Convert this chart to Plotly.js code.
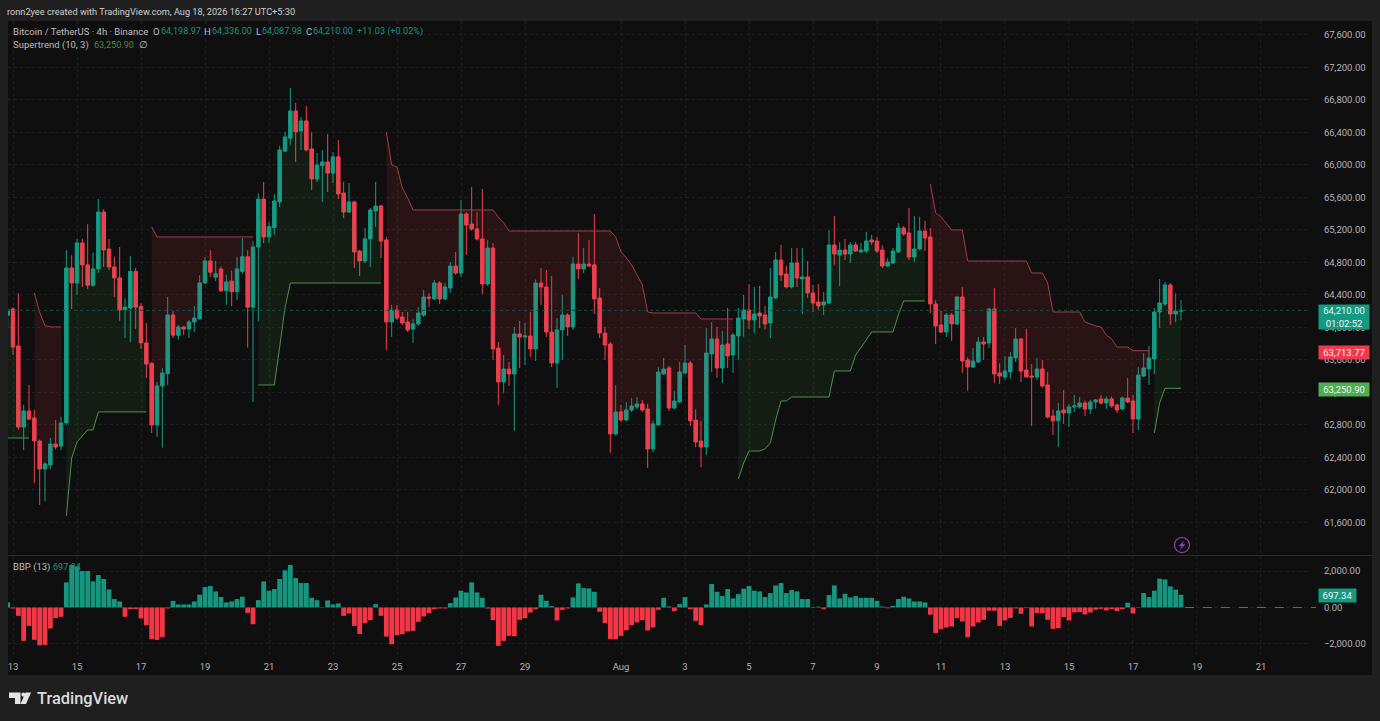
<!DOCTYPE html>
<html><head><meta charset="utf-8">
<script src="https://cdn.plot.ly/plotly-3.0.1.min.js"></script>
<style>html,body{margin:0;padding:0;background:#1f1f1f;overflow:hidden}#chart{width:1380px;height:721px}</style>
</head><body><div id="chart"></div>
<script>
const firstBar = -1;
const opens = [64150,64227,63772,62775,62972,62886,62602,62258,62307,62565,
62540,62824,64732,64547,65040,64770,64520,64720,65421,64965,
64745,64610,64215,64240,64690,64260,63810,63560,62800,63280,
63430,64153,63905,64005,63980,64067,64105,64547,64818,64620,
64720,64450,64570,64440,64690,64870,64250,64990,65580,65114,
65230,65545,66170,66330,66665,66418,66542,66197,65827,65990,
66037,65900,66100,65655,65421,65545,64941,64818,65090,65433,
65495,65077,64067,64215,64129,64067,63980,64043,64153,64375,
64350,64547,64350,64485,64756,64670,65397,65273,65212,65090,
64535,64978,63747,63328,63488,63427,63920,63882,63895,63735,
64547,64498,63944,63563,63969,64153,64006,64781,64720,64781,
64770,64363,63932,63796,62688,62960,62861,62984,63020,63058,
62996,62504,62800,63427,63501,63008,63082,63440,63562,62860,
62602,62528,63673,63858,63501,63796,63660,63895,64104,64215,
64092,64178,64153,64055,64363,64830,64658,64498,64794,64597,
64622,64425,64314,64277,64301,65015,64892,64953,64904,65015,
64929,64941,65077,65064,64953,64757,64794,64929,65224,65163,
64867,64966,65187,65114,64289,64030,63944,64153,64043,64375,
63600,63513,63575,63821,63809,64227,63439,63390,63452,63624,
63858,63476,63402,63390,63488,63292,62910,62850,62984,62947,
63021,63021,63070,62996,63082,63120,63070,63120,63045,62996,
63132,63095,62873,63402,63489,63612,64190,64289,64523,64166,
64198.97];
const highs = [64240,64250,64420,63045,63290,62985,62620,62340,62640,62860,
62900,64950,64890,65090,65090,65273,64920,65580,65458,65090,
64870,64990,64360,64880,64730,64300,64055,63570,63330,63500,
64375,64200,64030,64020,64090,64265,64645,64865,64953,64820,
64750,64650,64700,64870,65100,64950,65060,65650,65790,65300,
65640,66235,66406,66948,66763,66590,66726,66406,66147,66185,
66380,66160,66308,65790,65778,65560,64955,65225,65470,65790,
65510,65114,64277,64277,64190,64190,64100,64250,64461,64420,
64584,64570,64547,64806,64929,65570,65420,65730,65421,65704,
65077,65040,63821,63660,63575,64005,64080,64055,64190,64590,
64732,64707,64634,64116,64400,64175,64870,65163,64978,65077,
65397,64485,64005,63821,63290,63045,63082,63132,63144,63107,
63060,62850,63513,63624,63530,63218,63575,63784,63590,62996,
62850,63993,64067,64005,63956,64240,63930,64240,64400,64535,
64498,64510,64265,64732,64929,65015,64760,64978,64978,64978,
64818,64523,64535,64437,65200,65372,65052,65090,65052,65052,
65040,65175,65138,65114,65010,64855,64978,65285,65250,65470,
65372,65360,65310,65224,64338,64203,64178,64180,64385,64498,
63636,63747,63883,63883,64240,64486,63562,63648,63698,63993,
63870,63981,63550,63624,63600,63452,62990,63070,63230,63058,
63169,63144,63100,63110,63120,63169,63150,63150,63060,63150,
63378,63170,63513,63686,63772,64240,64597,64560,64547,64420,
64336];
const lows = [64000,63660,62740,62490,62860,62085,61815,61860,62258,62500,
62490,62800,64227,64400,64500,64474,64500,64670,64745,64707,
64375,64080,63870,63820,63980,63735,63380,62700,62650,62520,
63290,63870,63850,63905,63870,63945,64100,64540,64620,64570,
64440,64280,64265,64340,64660,63750,63080,64080,65040,65040,
65140,65480,66165,66246,66037,66185,66170,65692,65790,65545,
65667,65778,65580,65347,65410,64732,64634,64790,64745,65236,
64855,63722,63883,64090,64030,63945,63810,64020,64129,64250,
64335,64290,64335,64425,64650,64620,64892,65190,65070,64412,
64510,63600,63045,63190,63280,62725,63500,63538,63636,63587,
64277,63883,63513,63255,63600,63895,63969,64597,64670,64745,
64166,63870,63600,62455,62670,62836,62845,62960,62990,62960,
62270,62465,62790,63415,62972,62990,63070,63420,62787,62528,
62282,62430,63450,63378,63316,63501,63440,63600,63883,63981,
63932,63993,63975,63870,64350,64572,64480,64480,64498,64166,
64363,64190,64215,64153,64290,64770,64510,64830,64794,64929,
64915,64915,65015,64915,64732,64745,64780,64915,65130,64830,
64806,64950,64941,64178,63796,63930,63883,63834,64030,63440,
63218,63500,63560,63600,63747,63316,63304,63353,63365,63575,
63328,63385,62787,63350,63260,62880,62677,62528,62812,62775,
62960,63000,62910,62935,63000,63050,62996,63010,62947,62980,
63070,62700,62737,63390,63292,63427,63993,64265,64030,64067,
64087.98];
const closes = [64215,63759,62775,62972,62873,62602,62258,62320,62565,62528,
62824,64732,64547,65040,64770,64520,64720,65421,64953,64745,
64610,64215,64250,64690,64250,63810,63550,62800,63280,63440,
64153,63905,64005,63980,64067,64116,64547,64818,64680,64660,
64450,64560,64440,64720,64870,64250,64990,65580,65114,65240,
65557,66185,66345,66665,66406,66542,66185,65827,66000,66037,
65900,66100,65643,65421,65545,64929,64818,65090,65445,65495,
65064,64067,64215,64116,64055,63969,64043,64178,64375,64360,
64547,64350,64498,64756,64670,65397,65261,65212,65090,64535,
64978,63735,63328,63488,63427,63920,63882,63895,63735,64547,
64498,63944,63563,63969,64153,64006,64781,64720,64781,64756,
64350,63932,63784,62688,62960,62861,62984,63033,63058,62984,
62504,62812,63452,63488,63008,63095,63452,63562,62850,62590,
62528,63685,63858,63501,63784,63648,63907,64116,64215,64092,
64166,64141,64043,64375,64830,64646,64498,64794,64609,64622,
64425,64301,64265,64314,65015,64904,64953,64904,65015,64941,
64953,65064,65052,64941,64757,64806,64941,65224,65150,64867,
64966,65187,65101,64289,64018,63944,64153,64043,64375,63587,
63513,63587,63821,63796,64227,63427,63402,63464,63636,63858,
63464,63390,63390,63488,63280,62898,62850,62972,62947,63021,
63033,63070,62996,63082,63107,63070,63120,63033,62984,63132,
63082,62873,63415,63501,63624,64190,64301,64523,64166,64198.97,
64210];
const bbp = [275,-60,-460,-1835,-1010,-1780,-2075,-2055,-1155,-590,
-515,1375,2330,2257,2000,2000,1430,1780,1560,990,
460,330,-515,-90,-90,-605,-970,-1740,-1780,-1630,
-55,365,165,165,165,330,700,1120,1175,880,
570,275,330,460,590,-310,-920,400,1430,920,
1010,1560,2040,2330,1615,1340,1340,530,400,20,
385,165,220,-460,-330,-1010,-1450,-860,-700,185,
-460,-1600,-2020,-1520,-1470,-1320,-1285,-790,-495,-310,
-90,-55,-55,240,550,920,825,1375,825,530,
-55,-700,-2110,-1835,-1560,-1580,-680,-590,-275,-90,
700,365,75,-715,-130,-55,550,1320,1065,1045,
860,-240,-860,-1740,-1740,-1560,-1250,-970,-825,-700,
-1265,-1100,-130,530,55,-200,185,570,-90,-735,
-970,165,1285,860,625,1010,495,735,1030,1175,
920,880,570,790,1210,1340,790,955,880,460,
460,30,45,-90,680,1210,495,750,550,625,
530,530,530,365,50,-40,90,460,590,495,
330,330,275,-400,-1410,-1190,-1100,-1045,-590,-770,
-1635,-1045,-825,-680,-180,-180,-1010,-715,-570,-55,
-350,-40,-1045,-310,-310,-680,-1175,-1140,-530,-715,
-275,-255,-385,-275,-130,-75,-165,-90,-200,-90,
255,-330,20,790,570,920,1580,1540,1155,975,
697.34];

// Supertrend runs: [first bar, values]
const stDown0 = [4, [64424,64190,64020,64006,64006,64006]];
const stDown1 = [26, [65237,65114,65114,65114,65114,65114,65114,65114,65114,65114,65114,65114,65114,65114,65114,65114,65114,65114,65114,65114]];
const stDown2 = [70, [66406,65999,65975,65717,65594,
 65446,65446,65446,65446,65446,65446,65446,65446,65446,65446,65446,65446,65446,65446,65446,65446,
 65360,65286,
 65187,65187,65187,65187,65187,65187,65187,65187,65187,65187,65187,65187,65187,65187,65187,65187,65187,65187,65187,65187,
 65114,64929,64855,64769,64646,64523,64190,
 64178,64178,64178,64178,64178,64178,64178,64178,64178,
 64104,64104,64104,64104,64104,64104,64104]];
const stDown3 = [172, [65766,65409,65360,65274,65200,65200,65200,
 64818,64818,64818,64818,64818,64818,64818,64818,64818,64818,64818,64818,
 64670,64670,64670,64547,
 64190,64190,64190,64190,64190,64190,
 64067,64043,64018,64006,63907,63858,63759,63759,63759,
 63713.77,63713.77,63713.77,63713.77]];
const stUp0 = [-1, [62639,62639,62639,62639,62639]];
const stUp1 = [10, [61679,62393,62590,62664,62738,62738,62960,62960,62960,62960,62960,62960,62960,62960,62960,62960]];
const stUp2 = [46, [63292,63292,63292,63292,63759,64239,
 64547,64547,64547,64547,64547,64547,64547,64547,64547,64547,64547,64547,64547,64547,64547,64547,64547,64547]];
const stUp3 = [136, [62135,62331,62479,62479,62479,62504,62578,62861,63095,63095,
 63144,63144,63144,63144,63144,63144,63144,63144,
 63464,63464,63464,63464,63661,63747,63846,
 63944,63944,63944,63944,63944,64153,64326,64326,64326,64326,64326]];
const stUp4 = [214, [62701,63070,63250.9,63250.9,63250.9,63250.9]];

const dayTickBars = [0,12,24,36,48,60,72,84,96,114,126,138,150,162,174,186,198,210,222,234];
const dayTickLabels = ['13','15','17','19','21','23','25','27','29','Aug','3','5','7','9','11','13','15','17','19','21'];
const priceTicks = [61600,62000,62400,62800,63200,63600,64000,64400,64800,65200,65600,66000,66400,66800,67200,67600];
const bbpTicks = [-2000,0,2000];

const UP='#159a84', DOWN='#ee3f4f', GRID='#1e1e1e', TXT='#b4b4b4', FONT='Roboto, "Liberation Sans", sans-serif';
const PX=x=>(x-8)/1302, PY=y=>(675-y)/654;
const bars = opens.map((_,i)=>firstBar+i);
const mid = opens.map((o,i)=>(o+closes[i])/2);

const traces=[];
function stTrace([start,vals],line,fill){
  const xs=vals.map((_,k)=>start+k);
  const ms=vals.map((_,k)=>mid[start+k-firstBar]);
  traces.push({type:'scatter',mode:'lines',x:xs,y:ms,line:{width:0,color:'rgba(0,0,0,0)'},hoverinfo:'skip',showlegend:false});
  traces.push({type:'scatter',mode:'lines',x:xs,y:vals,line:{width:1,color:line},fill:'tonexty',fillcolor:fill,hoverinfo:'skip',showlegend:false});
}
[stDown0,stDown1,stDown2,stDown3].forEach(s=>stTrace(s,'#a53a47','rgba(242,54,69,0.11)'));
[stUp0,stUp1,stUp2,stUp3,stUp4].forEach(s=>stTrace(s,'#4f8f53','rgba(76,175,80,0.09)'));

traces.push({type:'candlestick',x:bars,open:opens,high:highs,low:lows,close:closes,
  increasing:{line:{color:UP,width:1},fillcolor:UP},decreasing:{line:{color:DOWN,width:1},fillcolor:DOWN},
  whiskerwidth:0,hoverinfo:'skip',showlegend:false});
traces.push({type:'bar',x:bars,y:bbp,yaxis:'y2',marker:{color:bbp.map(v=>v>=0?'#16967f':'#f23645'),line:{width:0}},hoverinfo:'skip',showlegend:false});

const teal='#1d8f7c', GREY='#bdbdbd';
const hdr=(x,y,t,sz,col,extra)=>Object.assign({xref:'paper',yref:'paper',x:PX(x),y:PY(y),xanchor:'left',yanchor:'middle',text:t,showarrow:false,borderpad:0,xshift:-1,font:{family:FONT,size:sz||9.5,color:col||GREY}},extra||{});
const priceLabel=(yref,val,text,bg,cx,w,h,shift)=>({xref:'paper',yref,x:PX(cx),y:val,xanchor:'center',yanchor:'middle',yshift:shift,text,showarrow:false,bgcolor:bg,width:w,height:h,borderpad:0,font:{family:FONT,size:9.5,color:'#f2f2f2'}});

function pathPx(pts){return pts.map((p,i)=>(i?'L':'M')+PX(p[0])+' '+PY(p[1])).join(' ')+' Z';}
const layout={
  width:1380,height:721,margin:{l:8,r:70,t:21,b:46,pad:0},
  paper_bgcolor:'#1f1f1f',plot_bgcolor:'rgba(0,0,0,0)',showlegend:false,hovermode:false,
  dragmode:false,bargap:0.1,boxgap:0.34,boxgroupgap:0,
  font:{family:FONT,size:9.5,color:TXT},
  xaxis:{range:[-0.94,243.19],tickmode:'array',tickvals:dayTickBars,ticktext:dayTickLabels,anchor:'y2',
    showgrid:true,gridcolor:GRID,griddash:'dot',gridwidth:1,zeroline:false,showline:false,ticks:'outside',ticklen:3,tickcolor:'rgba(0,0,0,0)',
    rangeslider:{visible:false},tickfont:{family:FONT,size:9.5,color:TXT},automargin:false},
  yaxis:{domain:[PY(555),1],range:[61199,67772],side:'right',tickmode:'array',tickvals:priceTicks,
    ticktext:priceTicks.map(v=>v.toLocaleString('en-US',{minimumFractionDigits:2})),
    showgrid:true,gridcolor:GRID,griddash:'dot',zeroline:false,showline:false,ticks:'outside',ticklen:11,tickcolor:'rgba(0,0,0,0)',
    tickfont:{family:FONT,size:9.5,color:TXT},automargin:false},
  yaxis2:{domain:[PY(655),PY(556)],range:[-2610,2825],side:'right',tickmode:'array',tickvals:bbpTicks,
    ticktext:['\u22122,000.00','0.00','2,000.00'],
    showgrid:true,gridcolor:GRID,griddash:'dot',zeroline:false,showline:false,ticks:'outside',ticklen:11,tickcolor:'rgba(0,0,0,0)',
    tickfont:{family:FONT,size:9.5,color:TXT},automargin:false},
  shapes:[
    {type:'rect',layer:'below',xref:'paper',yref:'paper',x0:PX(8),x1:PX(1372),y0:PY(675),y1:PY(21),fillcolor:'#0f0f0f',line:{width:0}},
    {type:'line',xref:'paper',yref:'paper',x0:PX(8),x1:PX(1372),y0:PY(555.5),y1:PY(555.5),line:{color:'#2b2b2b',width:1}},
    {type:'line',xref:'paper',yref:'y',x0:0,x1:1,y0:64210,y1:64210,line:{color:'#104d44',width:1,dash:'dot'}},
    {type:'line',xref:'paper',yref:'y2',x0:PX(1185),x1:PX(1316),y0:0,y1:0,line:{color:'#6a6a6a',width:1,dash:'dash'}},
    {type:'circle',xref:'paper',yref:'paper',x0:PX(1174.5),x1:PX(1189.5),y0:PY(552.5),y1:PY(537.5),line:{color:'#9440b0',width:1.2},fillcolor:'rgba(0,0,0,0)'},
    {type:'path',xref:'paper',yref:'paper',path:pathPx([[1184.5,540.5],[1178.5,546],[1181.6,546],[1179.8,550],[1185.5,544.2],[1182.3,544.2]]),fillcolor:'#9440b0',line:{width:0}},
    // TradingView logo
    {type:'path',xref:'paper',yref:'paper',path:pathPx([[9,692.5],[20.5,692.5],[20.5,704],[15,704],[15,698],[9,698]]),fillcolor:'#e4e4e4',line:{width:0}},
    {type:'circle',xref:'paper',yref:'paper',x0:PX(21.3),x1:PX(25.3),y0:PY(696.7),y1:PY(692.5),fillcolor:'#e4e4e4',line:{width:0}},
    {type:'path',xref:'paper',yref:'paper',path:pathPx([[25.5,692.5],[31,692.5],[26,704],[20.5,704]]),fillcolor:'#e4e4e4',line:{width:0}}
  ],
  annotations:[
    hdr(7,11,'ronn2yee created with TradingView.com, Aug 18, 2026 16:27 UTC+5:30',9.2,'#cfcfcf'),
    hdr(13,31.5,'Bitcoin / TetherUS \u00b7 4h \u00b7 Binance'),
    hdr(153,31.5,'O'), hdr(160.5,31.5,'64,198.97',9.1,teal),
    hdr(204,31.5,'H'), hdr(211.5,31.5,'64,336.00',9.1,teal),
    hdr(256,31.5,'L'), hdr(262,31.5,'64,087.98',9.1,teal),
    hdr(306,31.5,'C'), hdr(313,31.5,'64,210.00',9.1,teal),
    hdr(357,31.5,'+11.03 (+0.02%)',9.1,teal),
    hdr(13,44.5,'Supertrend (10, 3)'),
    hdr(94,44.5,'63,250.90',9.1,'#3f8f44'),
    hdr(139,44.5,'\u2205'),
    hdr(13,566.5,'BBP (13)'),
    hdr(53,566.5,'697.34',9.1,teal),
    hdr(37,698.5,'TradingView',16.4,'#dcdcdc',{font:{family:FONT,size:16.4,color:'#dcdcdc',weight:500}}),
    priceLabel('y',64210,'64,210.00<br>01:02:52','#139a83',1344,50,24,-6.6),
    priceLabel('y',63713.77,'63,713.77','#ee3a4c',1344,50,13,-1.5),
    priceLabel('y',63250.9,'63,250.90','#4caf50',1344,50,13,-1),
    priceLabel('y2',697.34,'697.34','#139a83',1337.5,37,12.5,-0.7)
  ]
};
Plotly.newPlot('chart',traces,layout,{displayModeBar:false,staticPlot:true});
</script></body></html>
